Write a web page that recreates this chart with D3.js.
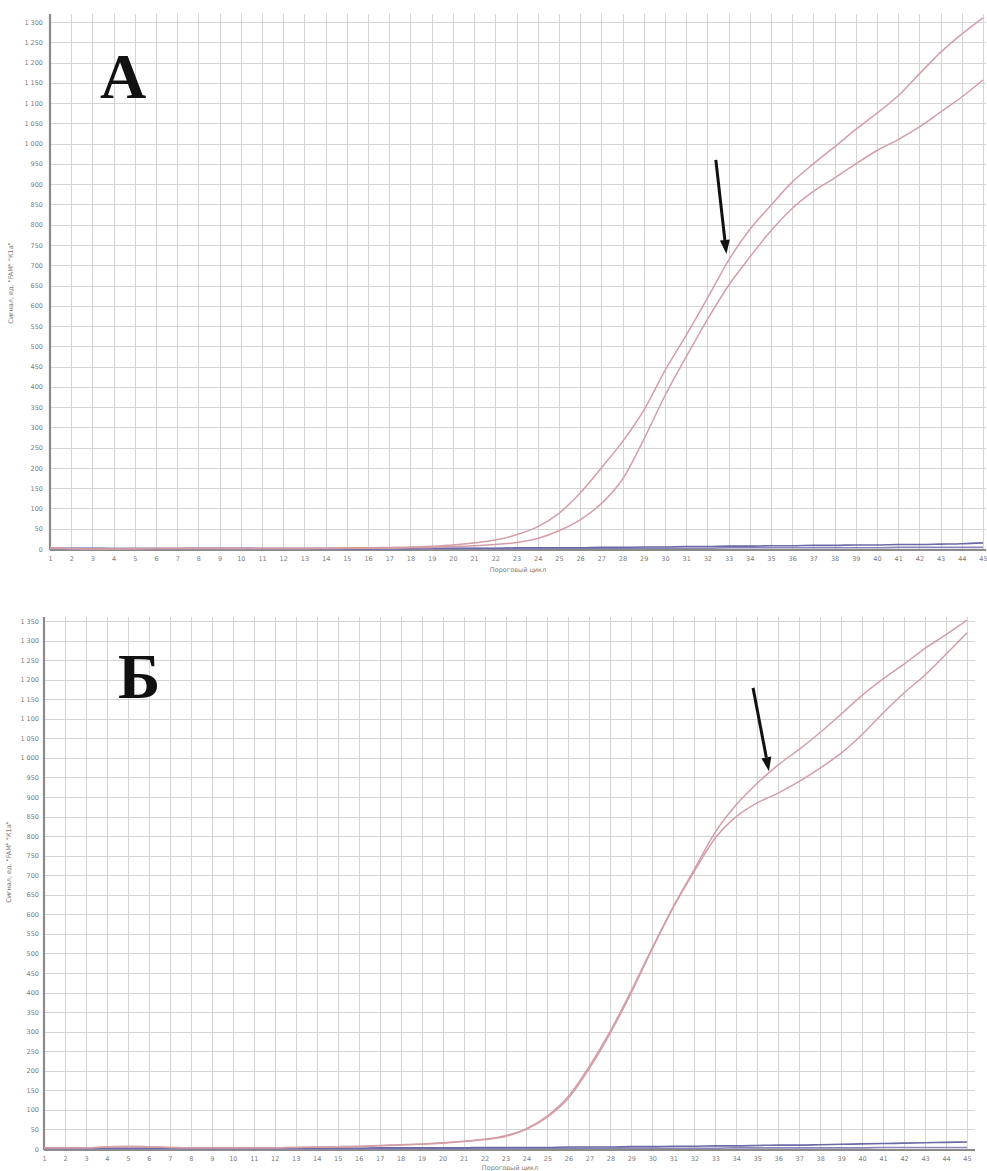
<!DOCTYPE html>
<html>
<head>
<meta charset="utf-8">
<script src="https://cdn.jsdelivr.net/npm/d3@7"></script>
<style>
  html, body { margin: 0; padding: 0; background: #fff; }
  svg { display: block; }
</style>
</head>
<body>
<svg id="chart" width="987" height="1171"></svg>
<script>
// Amplification cycles (x axis)
const cycles = [1,2,3,4,5,6,7,8,9,10,11,12,13,14,15,16,17,18,19,20,21,22,23,24,25,26,27,28,29,30,31,32,33,34,35,36,37,38,39,40,41,42,43,44,45];

// Y tick values for each panel
const yTicksA = [0,50,100,150,200,250,300,350,400,450,500,550,600,650,700,750,800,850,900,950,1000,1050,1100,1150,1200,1250,1300];
const yTicksB = [0,50,100,150,200,250,300,350,400,450,500,550,600,650,700,750,800,850,900,950,1000,1050,1100,1150,1200,1250,1300,1350];

// Panel А: FAM fluorescence, two positive samples
const ampA1 = [3,1,0,0,1,1,1,2,2,1,1,1,1,2,3,3,4,5,7,10,15,22,35,55,88,138,200,265,342,440,527,618,712,788,848,905,950,992,1035,1075,1118,1172,1225,1270,1310];
const ampA2 = [2,1,0,0,0,1,1,1,1,1,1,1,1,1,2,2,2,3,4,6,8,11,16,26,45,72,112,172,270,378,474,566,650,720,785,840,882,915,950,983,1010,1041,1078,1115,1157];
// Panel А: negative / background traces
const baseA1 = [2,2,2,1,1,1,1,2,2,2,1,1,1,1,1,1,1,1,2,2,2,2,3,3,3,3,4,4,5,5,6,6,7,7,8,8,9,9,10,10,11,11,12,13,15];
const baseA2 = [1,1,1,1,1,1,1,1,1,1,1,1,1,1,1,1,1,1,1,1,1,1,1,1,2,2,2,2,2,2,2,2,3,3,3,3,3,3,3,3,4,4,4,4,4];

// Panel Б: FAM fluorescence, two positive samples
const ampB1 = [4,3,3,6,7,6,4,3,3,3,3,3,4,5,6,7,9,11,13,16,20,25,34,52,85,135,212,302,405,515,620,715,810,880,935,982,1022,1065,1112,1160,1202,1240,1280,1315,1352];
const ampB2 = [3,3,3,5,6,5,4,3,3,3,3,3,4,5,5,6,8,10,12,15,19,24,32,50,82,130,206,297,400,512,618,710,795,850,885,910,940,974,1012,1060,1115,1166,1212,1265,1320];
// Panel Б: negative / background traces
const baseB1 = [2,2,2,2,2,2,2,2,2,2,2,2,2,2,2,2,3,3,3,3,3,4,4,4,4,5,5,5,6,6,7,7,8,8,9,10,10,11,12,13,14,15,16,17,18];
const baseB2 = [1,1,1,1,1,1,1,1,1,1,1,1,1,1,1,1,1,1,1,1,1,1,1,2,2,2,2,2,2,2,2,2,2,3,3,3,3,3,3,3,4,4,4,4,4];

// Arrow annotations in data coordinates [cycle, signal]
const arrowA = [[32.4, 960], [32.9, 728]];
const arrowB = [[34.8, 1179], [35.56, 966]];

const xTitle = "Пороговый цикл";
const yTitle = "Сигнал, ед. \"FAM\" \"К1а\"";

const fmt = d3.formatLocale({ decimal: ",", thousands: " ", grouping: [3], currency: ["", ""] }).format(",");

const svg = d3.select("#chart");
svg.append("rect").attr("width", 987).attr("height", 1171).attr("fill", "#fff");

const panels = [
  { letter: "А", yTicks: yTicksA, yMax: 1300, amp: [ampA1, ampA2], base: [baseA1, baseA2], arrow: arrowA,
    x0: 50, x45: 983, gridRight: 986, gridTop: 14, yBottom: 549, yTop: 22, axisY: 550,
    letterPos: [100, 98], labelPad: 7, xTitlePos: [518, 572], yTitlePos: [13, 283] },
  { letter: "Б", yTicks: yTicksB, yMax: 1350, amp: [ampB1, ampB2], base: [baseB1, baseB2], arrow: arrowB,
    x0: 44, x45: 967, gridRight: 975, gridTop: 617, yBottom: 1149, yTop: 621, axisY: 1150,
    letterPos: [118, 698], labelPad: 5, xTitlePos: [510, 1170], yTitlePos: [11, 862] }
];

panels.forEach(p => {
  const x = d3.scaleLinear().domain([1, 45]).range([p.x0, p.x45]);
  const y = d3.scaleLinear().domain([0, p.yMax]).range([p.yBottom, p.yTop]);
  const g = svg.append("g");

  // grid
  const grid = g.append("g").attr("shape-rendering", "crispEdges");
  grid.selectAll("line.v").data(cycles).join("line")
    .attr("x1", d => Math.round(x(d)) + 0.5).attr("x2", d => Math.round(x(d)) + 0.5)
    .attr("y1", p.gridTop).attr("y2", p.axisY)
    .attr("stroke", "#d4d4d4").attr("stroke-width", 1);
  grid.selectAll("line.h").data(p.yTicks).join("line")
    .attr("x1", p.x0).attr("x2", p.gridRight)
    .attr("y1", d => Math.round(y(d)) + 0.5).attr("y2", d => Math.round(y(d)) + 0.5)
    .attr("stroke", "#d4d4d4").attr("stroke-width", 1);

  // axes
  const yAxis = g.append("g").attr("transform", `translate(${p.x0},0)`)
    .call(d3.axisLeft(y).tickValues(p.yTicks).tickSize(0).tickPadding(p.labelPad).tickFormat(fmt));
  yAxis.select(".domain").attr("stroke", "#8a8a8a").attr("stroke-width", 2.2)
    .attr("d", `M0,${p.gridTop}V${p.axisY}`);
  yAxis.selectAll("text").attr("fill", "#7a7a7a").attr("font-size", 6.5)
    .attr("font-family", "DejaVu Sans, sans-serif");

  const xAxis = g.append("g").attr("transform", `translate(0,${p.axisY})`)
    .call(d3.axisBottom(x).tickValues(cycles).tickSize(0).tickPadding(6).tickFormat(d3.format("d")));
  xAxis.select(".domain").attr("stroke", "#8a8a8a").attr("stroke-width", 2.2)
    .attr("d", `M${p.x0},0H${p.gridRight}`);
  xAxis.selectAll("text").attr("fill", "#7a7a7a").attr("font-size", 6.5)
    .attr("font-family", "DejaVu Sans, sans-serif");

  // axis titles
  g.append("text").attr("x", p.xTitlePos[0]).attr("y", p.xTitlePos[1])
    .attr("text-anchor", "middle").attr("font-size", 6.5).attr("fill", "#7a7a7a")
    .attr("font-family", "DejaVu Sans, sans-serif").text(xTitle);
  g.append("text").attr("transform", `translate(${p.yTitlePos[0]},${p.yTitlePos[1]}) rotate(-90)`)
    .attr("text-anchor", "middle").attr("font-size", 6.5).attr("fill", "#7a7a7a")
    .attr("font-family", "DejaVu Sans, sans-serif").text(yTitle);

  const line = d3.line().x((d, i) => x(cycles[i])).y(d => y(d)).curve(d3.curveMonotoneX);

  // background traces
  g.append("path").datum(p.base[1]).attr("d", line).attr("fill", "none")
    .attr("stroke", "#8c86b8").attr("stroke-width", 1.6);
  g.append("path").datum(p.base[0]).attr("d", line).attr("fill", "none")
    .attr("stroke", "#6c6aa6").attr("stroke-width", 1.6);

  // amplification curves
  p.amp.forEach(s => {
    g.append("path").datum(s).attr("d", line).attr("fill", "none")
      .attr("stroke", "#d49ea7").attr("stroke-width", 1.5);
  });

  // panel letter
  g.append("text").attr("x", p.letterPos[0]).attr("y", p.letterPos[1])
    .attr("font-family", "Liberation Serif, Times New Roman, serif")
    .attr("font-weight", "bold").attr("font-size", 64).attr("fill", "#111").text(p.letter);

  // arrow
  const [a0, a1] = p.arrow;
  const X0 = x(a0[0]), Y0 = y(a0[1]), X1 = x(a1[0]), Y1 = y(a1[1]);
  const ang = Math.atan2(Y1 - Y0, X1 - X0);
  const headL = 14, headW = 5;
  const bx = X1 - headL * Math.cos(ang), by = Y1 - headL * Math.sin(ang);
  g.append("line").attr("x1", X0).attr("y1", Y0).attr("x2", bx).attr("y2", by)
    .attr("stroke", "#111").attr("stroke-width", 3);
  const px = -Math.sin(ang), py = Math.cos(ang);
  g.append("path")
    .attr("d", `M${X1},${Y1}L${bx + headW * px},${by + headW * py}L${bx - headW * px},${by - headW * py}Z`)
    .attr("fill", "#111");
});
</script>
</body>
</html>
